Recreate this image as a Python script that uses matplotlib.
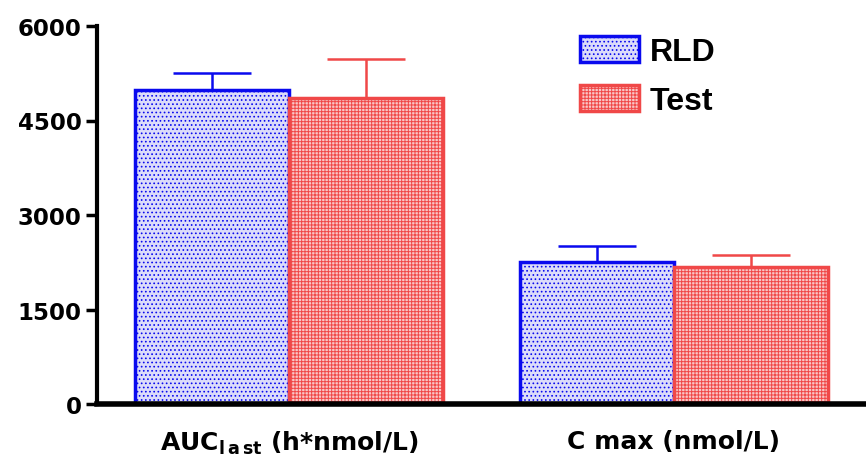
import matplotlib
matplotlib.use('Agg')
import matplotlib.pyplot as plt
import numpy as np

# pharmacokinetic parameters, mean and SD
params = ['AUC$_{l\\,a\\,st}$ (h*nmol/L)', 'C max (nmol/L)']
rld_mean = [4980, 2250]
rld_sd = [270, 255]
test_mean = [4850, 2170]
test_sd = [620, 190]
yticks = [0, 1500, 3000, 4500, 6000]

plt.rcParams['font.family'] = 'DejaVu Sans'
plt.rcParams['font.weight'] = 'bold'
plt.rcParams['mathtext.fontset'] = 'custom'
plt.rcParams['mathtext.rm'] = 'DejaVu Sans:bold'
plt.rcParams['mathtext.it'] = 'DejaVu Sans:bold'
plt.rcParams['mathtext.bf'] = 'DejaVu Sans:bold'
plt.rcParams['hatch.linewidth'] = 0.7

fig = plt.figure(figsize=(8.66, 4.6), dpi=100)
ax = fig.add_axes([97/866, 55/460, 1 - 97/866, 378/460])

x = np.arange(len(params))
w = 0.4
blue = '#0a0aee'
red = '#f04848'

ax.bar(x - w/2, rld_mean, w, facecolor='#dcdcfa', edgecolor=blue,
       hatch='....', linewidth=2.5, label='RLD', zorder=2)
ax.bar(x + w/2, test_mean, w, facecolor='#fac6c6', edgecolor=red,
       hatch='+++++', linewidth=2.5, label='Test', zorder=2)

# upper error bars only
ax.errorbar(x - w/2, rld_mean, yerr=[np.zeros(2), rld_sd], fmt='none',
            ecolor=blue, elinewidth=1.8, capsize=28, capthick=1.8, zorder=1)
ax.errorbar(x + w/2, test_mean, yerr=[np.zeros(2), test_sd], fmt='none',
            ecolor=red, elinewidth=1.8, capsize=28, capthick=1.8, zorder=1)

ax.set_xlim(-0.5, 1.5)
ax.set_ylim(0, 6000)
ax.set_yticks(yticks)
ax.set_yticklabels([str(t) for t in yticks], fontsize=16.5, fontweight='bold')
ax.set_xticks(x)
ax.set_xticklabels(params, fontsize=18, fontweight='bold')
ax.tick_params(axis='x', length=0, pad=18)
ax.tick_params(axis='y', length=8, width=2.5, pad=3)

for s in ['top', 'right']:
    ax.spines[s].set_visible(False)
ax.spines['left'].set_linewidth(3)
ax.spines['bottom'].set_linewidth(4)

ax.legend(loc='upper right', bbox_to_anchor=(0.842, 1.05), frameon=False,
          prop={'family': 'Liberation Sans', 'weight': 'bold', 'size': 23},
          handlelength=1.85, handleheight=0.9, labelspacing=0.55,
          handletextpad=0.35)

plt.savefig('out.png', dpi=100)
plt.close()
